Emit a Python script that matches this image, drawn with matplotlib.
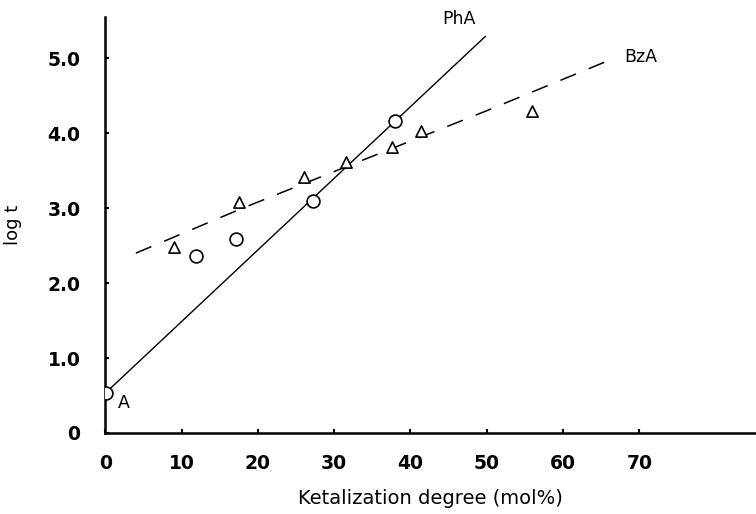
import matplotlib
matplotlib.use("Agg")
import matplotlib.pyplot as plt

# PhA (circles) and BzA (triangles) measured points
pha_x = [0.1, 11.9, 17.1, 27.2, 38.0]
pha_y = [0.54, 2.36, 2.59, 3.09, 4.16]
bza_x = [9.0, 17.5, 26.0, 31.5, 37.6, 41.4, 55.9]
bza_y = [2.48, 3.08, 3.42, 3.61, 3.81, 4.03, 4.30]

# fitted lines as drawn in the figure
pha_fit_x = [0.5, 49.8]
pha_fit_y = [0.58, 5.29]
bza_fit_x = [4.0, 18.0, 32.0, 50.0, 66.7]
bza_fit_y = [2.40, 3.00, 3.57, 4.30, 5.00]

xticks = [0, 10, 20, 30, 40, 50, 60, 70]
yticks = [0, 1, 2, 3, 4, 5]
ytick_labels = ["0", "1.0", "2.0", "3.0", "4.0", "5.0"]

fig = plt.figure(figsize=(7.56, 5.14), dpi=100)
ax = fig.add_axes([0.1394, 0.1576, 0.8606, 0.8093])

ax.plot(pha_fit_x, pha_fit_y, color="black", lw=1.0)
ax.plot(bza_fit_x, bza_fit_y, color="black", lw=1.1, linestyle=(0, (11, 9)))
ax.scatter(pha_x, pha_y, s=85, facecolors="white", edgecolors="black",
           linewidths=1.2, zorder=3)
ax.scatter(bza_x, bza_y, s=65, marker="^", facecolors="white",
           edgecolors="black", linewidths=1.2, zorder=3)

ax.text(46.3, 5.53, "PhA", fontsize=12.5, ha="center", va="center")
ax.text(70.2, 5.02, "BzA", fontsize=12.5, ha="center", va="center")
ax.text(2.4, 0.40, "A", fontsize=12.5, ha="center", va="center")

ax.set_xlim(0, 85.3)
ax.set_ylim(0, 5.55)
ax.spines["top"].set_visible(False)
ax.spines["right"].set_visible(False)
ax.spines["left"].set_linewidth(1.8)
ax.spines["bottom"].set_linewidth(1.8)

ax.set_xticks(xticks)
ax.set_xticklabels([str(v) for v in xticks], fontsize=13.5, fontweight="bold")
ax.set_yticks(yticks)
ax.set_yticklabels(ytick_labels, fontsize=13.5, fontweight="bold")
ax.tick_params(axis="both", direction="in", length=3, width=1.5)
ax.tick_params(axis="x", pad=15)
ax.tick_params(axis="y", pad=18)

ax.set_xlabel("Ketalization degree (mol%)", fontsize=14, labelpad=12)
ax.set_ylabel("log t", fontsize=13, labelpad=18)

fig.savefig("out.png", dpi=100)
